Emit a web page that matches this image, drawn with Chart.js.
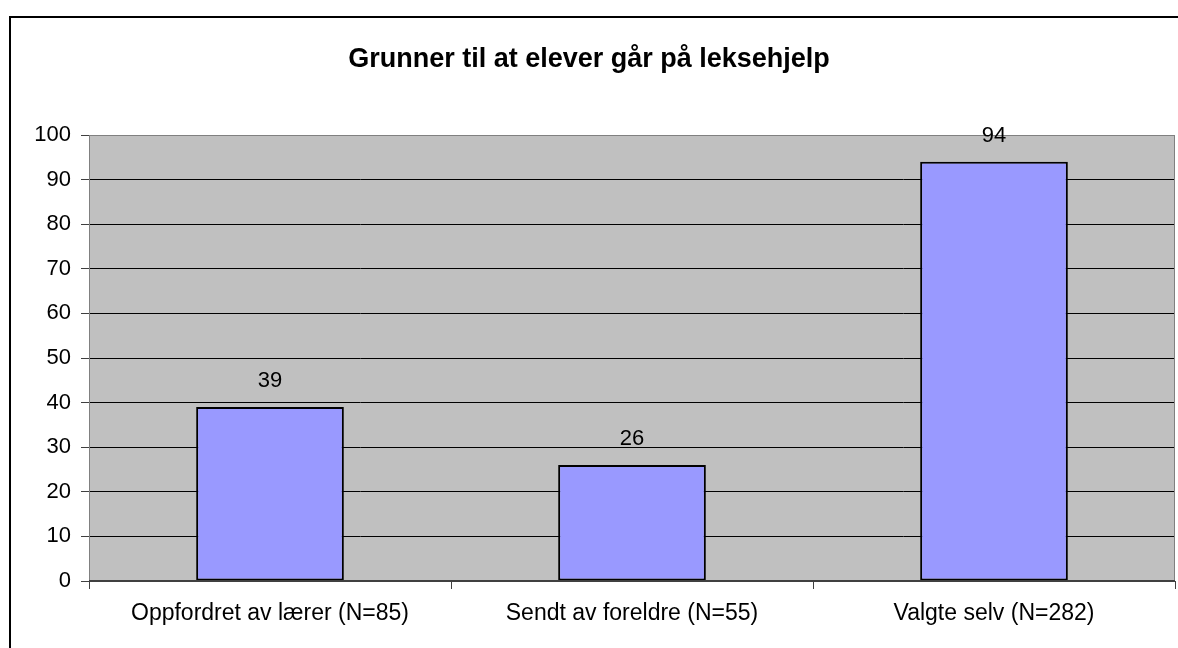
<!DOCTYPE html>
<html>
<head>
<meta charset="utf-8">
<script src="https://cdn.jsdelivr.net/npm/chart.js@4"></script>
<style>
  html, body { margin: 0; padding: 0; background: #fff; }
  #wrap { width: 1178px; height: 648px; }
</style>
</head>
<body>
<div id="wrap"><canvas id="chart" width="1178" height="648"></canvas></div>
<script>
// Data
const categories = ["Oppfordret av lærer (N=85)", "Sendt av foreldre (N=55)", "Valgte selv (N=282)"];
const values = [39, 26, 94];
const yTicks = [0, 10, 20, 30, 40, 50, 60, 70, 80, 90, 100];
const chartTitle = "Grunner til at elever går på leksehjelp";

const FONT = "'Liberation Sans', Arial, sans-serif";

// Plugin: outer frame, grey plot area, title, value labels
const decor = {
  id: "decor",
  beforeDraw(chart) {
    const ctx = chart.ctx;
    const a = chart.chartArea;
    ctx.save();
    ctx.fillStyle = "#fff";
    ctx.fillRect(0, 0, chart.width, chart.height);
    // outer frame
    ctx.strokeStyle = "#000";
    ctx.lineWidth = 2;
    ctx.strokeRect(10, 17, chart.width + 20, chart.height + 20);
    // plot background
    ctx.fillStyle = "#c0c0c0";
    ctx.fillRect(a.left, a.top, a.right - a.left, a.bottom - a.top);
    // title
    ctx.fillStyle = "#000";
    ctx.font = "bold 27px " + FONT;
    ctx.textAlign = "center";
    ctx.textBaseline = "middle";
    ctx.fillText(chartTitle, 589, 60);
    ctx.restore();
  },
  afterDatasetsDraw(chart) {
    const ctx = chart.ctx;
    const a = chart.chartArea;
    ctx.save();
    // plot border
    ctx.strokeStyle = "#808080";
    ctx.lineWidth = 1;
    ctx.strokeRect(a.left + 0.5, a.top + 0.5, a.right - a.left - 1, a.bottom - a.top);
    ctx.lineWidth = 2;
    ctx.strokeStyle = "#404040";
    ctx.beginPath();
    ctx.moveTo(a.left, a.bottom);
    ctx.lineTo(a.right, a.bottom);
    ctx.stroke();
    // value labels
    ctx.fillStyle = "#000";
    ctx.font = "22px " + FONT;
    ctx.textAlign = "center";
    ctx.textBaseline = "middle";
    chart.getDatasetMeta(0).data.forEach((bar, i) => {
      ctx.fillText(String(values[i]), bar.x, bar.y - 26);
    });
    ctx.restore();
  }
};

new Chart(document.getElementById("chart"), {
  type: "bar",
  data: {
    labels: categories,
    datasets: [{
      data: values,
      backgroundColor: "#9999ff",
      borderColor: "#000",
      borderWidth: 2,
      borderSkipped: false,
      categoryPercentage: 0.8,
      barPercentage: 0.51
    }]
  },
  options: {
    responsive: false,
    animation: false,
    layout: { padding: { top: 135, right: 3, left: 0, bottom: 0 } },
    plugins: {
      legend: { display: false },
      title: { display: false },
      tooltip: { enabled: false }
    },
    scales: {
      x: {
        offset: true,
        grid: {
          display: true,
          drawOnChartArea: false,
          drawTicks: true,
          tickLength: 8,
          color: "#404040",
          offset: true
        },
        border: { display: false },
        ticks: {
          color: "#000",
          font: { family: FONT, size: 23 },
          maxRotation: 0,
          padding: 11
        },
        afterFit(scale) { scale.height = 67; }
      },
      y: {
        min: 0,
        max: 100,
        afterBuildTicks(scale) { scale.ticks = yTicks.map(v => ({ value: v })); },
        grid: {
          color: "#000",
          tickColor: "#404040",
          tickLength: 8,
          lineWidth: 1
        },
        border: { display: false },
        ticks: {
          color: "#000",
          font: { family: FONT, size: 22 },
          padding: 10
        },
        afterFit(scale) { scale.width = 89; }
      }
    }
  },
  plugins: [decor]
});
</script>
</body>
</html>
